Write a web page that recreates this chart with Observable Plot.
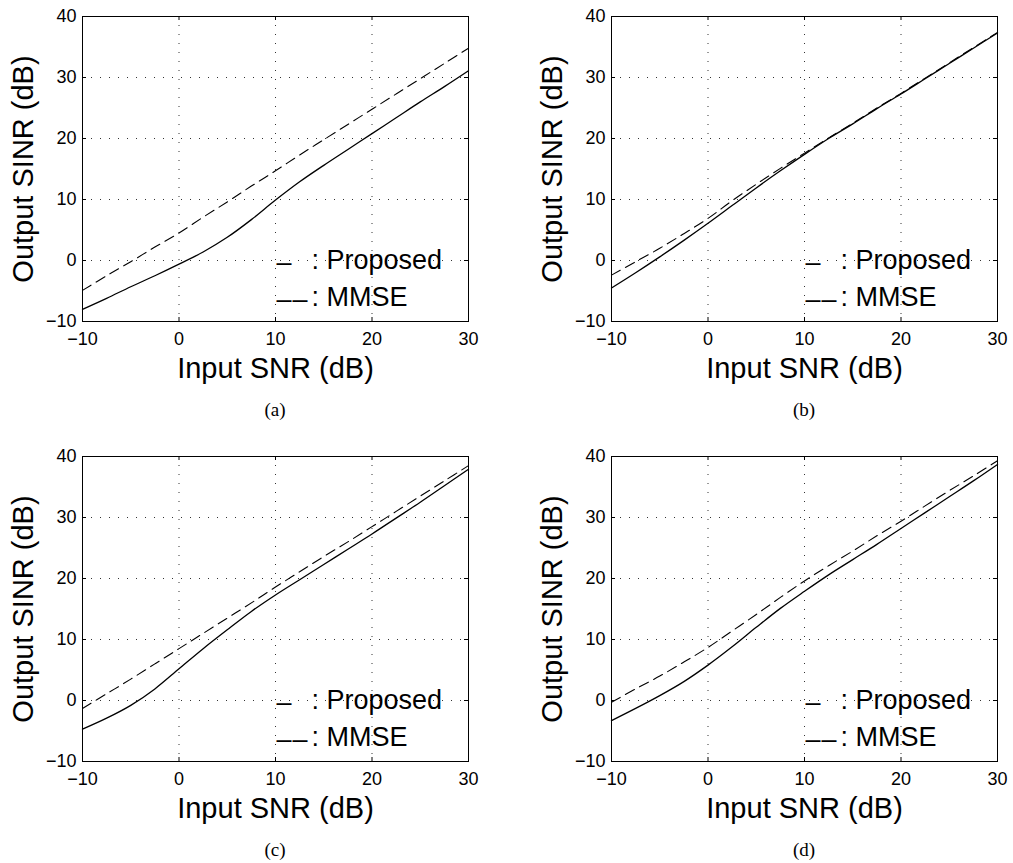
<!DOCTYPE html>
<html>
<head>
<meta charset="utf-8">
<script src="https://cdn.jsdelivr.net/npm/d3@7"></script>
<script src="https://cdn.jsdelivr.net/npm/@observablehq/plot@0.6"></script>
<style>
  body { margin: 0; background: #fff; }
  #wrap { position: relative; width: 1013px; height: 863px; background: #fff; }
  .panel { position: absolute; width: 506px; height: 440px; }
  .panel svg { overflow: visible; }
  .cap { position: absolute; font-family: "Liberation Serif", "Times New Roman", serif; font-size: 19px; color: #000; transform: translate(-50%, -50%); white-space: nowrap; }
</style>
</head>
<body>
<div id="wrap"></div>
<script>
// ---- data ----
const snr = [-10, -7.5, -5, -2.5, 0, 2.5, 5, 7.5, 10, 12.5, 15, 17.5, 20, 22.5, 25, 27.5, 30];

const proposedA = [-8.0, -6.2, -4.3, -2.5, -0.6, 1.4, 3.8, 6.7, 9.9, 12.9, 15.6, 18.2, 20.8, 23.4, 26.0, 28.5, 31.1];
const mmseA     = [-4.9, -2.5, -0.2, 2.2, 4.5, 7.1, 9.6, 12.2, 14.7, 17.3, 19.8, 22.3, 24.8, 27.3, 29.8, 32.3, 34.8];

const proposedB = [-4.5, -2.0, 0.6, 3.3, 6.1, 9.0, 11.9, 14.7, 17.4, 20.0, 22.4, 24.9, 27.3, 29.8, 32.3, 34.8, 37.3];
const mmseB     = [-2.4, -0.2, 2.0, 4.4, 6.9, 9.8, 12.5, 15.1, 17.6, 20.1, 22.5, 25.0, 27.4, 29.9, 32.4, 34.9, 37.4];

const proposedC = [-4.7, -2.9, -0.8, 1.9, 5.2, 8.5, 11.6, 14.6, 17.3, 19.8, 22.3, 24.8, 27.3, 29.9, 32.5, 35.2, 37.9];
const mmseC     = [-1.3, 1.1, 3.5, 6.0, 8.5, 11.0, 13.5, 16.0, 18.6, 21.1, 23.6, 26.0, 28.5, 31.0, 33.5, 36.0, 38.5];

const proposedD = [-3.3, -1.3, 0.8, 3.1, 5.8, 8.8, 12.0, 15.1, 17.9, 20.6, 23.1, 25.6, 28.2, 30.8, 33.4, 36.0, 38.7];
const mmseD     = [-0.3, 1.9, 4.0, 6.3, 8.7, 11.4, 14.1, 16.9, 19.6, 22.1, 24.5, 27.0, 29.4, 31.9, 34.4, 36.8, 39.3];

const xTicks = [-10, 0, 10, 20, 30];
const yTicks = [-10, 0, 10, 20, 30, 40];
const xGrid = [0, 10, 20];
const yGrid = [0, 10, 20, 30];
const xLabel = "Input SNR (dB)";
const yLabel = "Output SINR (dB)";
const legendDash = "\u2013";
const legendLabels = [": Proposed", ": MMSE"];
const panelCaptions = ["(a)", "(b)", "(c)", "(d)"];

// ---- layout ----
const W = 506, H = 440, ML = 82, MR = 38, MT = 16, MB = 119;
const frameW = W - ML - MR, frameH = H - MT - MB;
const tickLen = 4;

function legendText(t, dx, dy) {
  return Plot.text([t], {text: d => d, frameAnchor: "bottom-left", dx, dy, textAnchor: "start", lineAnchor: "middle", fontSize: 27, fill: "#000"});
}

function panel(prop, mmse) {
  const rows = snr.map((x, i) => ({x, p: prop[i], m: mmse[i]}));
  return Plot.plot({
    width: W, height: H,
    marginLeft: ML, marginRight: MR, marginTop: MT, marginBottom: MB,
    style: {fontFamily: "'Liberation Sans', Arial, sans-serif", background: "#fff", color: "#000", overflow: "visible"},
    x: {domain: [-10, 30]},
    y: {domain: [-10, 40]},
    marks: [
      Plot.gridX(xGrid, {stroke: "#333", strokeOpacity: 1, strokeDasharray: "1,8", strokeWidth: 1}),
      Plot.gridY(yGrid, {stroke: "#333", strokeOpacity: 1, strokeDasharray: "1,8", strokeWidth: 1}),
      Plot.line(rows, {x: "x", y: "m", stroke: "#000", strokeWidth: 1.1, strokeDasharray: "10,6", curve: "catmull-rom"}),
      Plot.line(rows, {x: "x", y: "p", stroke: "#000", strokeWidth: 1.3, curve: "catmull-rom"}),
      Plot.frame({stroke: "#000", strokeWidth: 1}),
      // inward ticks on all four sides
      Plot.tickX(xTicks, {x: d => d, insetTop: frameH - tickLen, stroke: "#000"}),
      Plot.tickX(xTicks, {x: d => d, insetBottom: frameH - tickLen, stroke: "#000"}),
      Plot.tickY(yTicks, {y: d => d, insetRight: frameW - tickLen, stroke: "#000"}),
      Plot.tickY(yTicks, {y: d => d, insetLeft: frameW - tickLen, stroke: "#000"}),
      Plot.axisX(xTicks, {tickSize: 0, tickPadding: 11, fontSize: 18, label: null}),
      Plot.axisY(yTicks, {tickSize: 0, tickPadding: 6, fontSize: 18, label: null}),
      Plot.text([xLabel], {text: d => d, frameAnchor: "bottom", dy: 47, textAnchor: "middle", lineAnchor: "middle", fontSize: 29, fill: "#000"}),
      Plot.text([yLabel], {text: d => d, frameAnchor: "left", dx: -59, rotate: -90, textAnchor: "middle", lineAnchor: "middle", fontSize: 29, fill: "#000"}),
      // legend
      legendText(legendDash, 194, -59),
      legendText(legendLabels[0], 229, -61),
      legendText(legendDash, 194, -22),
      legendText(legendDash, 210, -22),
      legendText(legendLabels[1], 229, -24)
    ]
  });
}

const wrap = document.getElementById("wrap");
const panels = [
  {prop: proposedA, mmse: mmseA, left: 0, top: 0},
  {prop: proposedB, mmse: mmseB, left: 529, top: 0},
  {prop: proposedC, mmse: mmseC, left: 0, top: 440},
  {prop: proposedD, mmse: mmseD, left: 529, top: 440}
];
panels.forEach((p, i) => {
  const div = document.createElement("div");
  div.className = "panel";
  div.style.left = p.left + "px";
  div.style.top = p.top + "px";
  div.appendChild(panel(p.prop, p.mmse));
  wrap.appendChild(div);
  const cap = document.createElement("div");
  cap.className = "cap";
  cap.textContent = panelCaptions[i];
  cap.style.left = (p.left + ML + frameW / 2) + "px";
  cap.style.top = (p.top + 410) + "px";
  wrap.appendChild(cap);
});
</script>
</body>
</html>
